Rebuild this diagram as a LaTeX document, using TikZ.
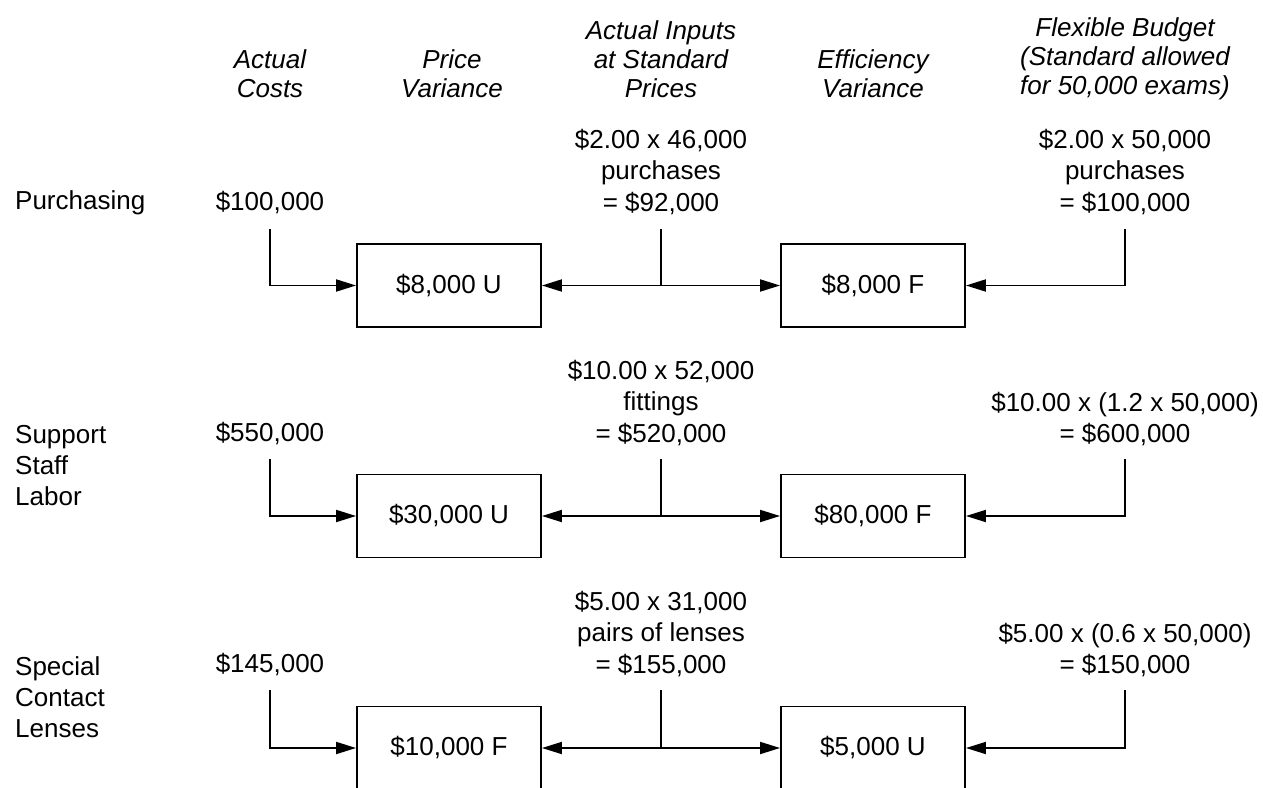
\documentclass[tikz,border=0pt]{standalone}
\usepackage{fontspec}
\setmainfont{Liberation Sans}
\usetikzlibrary{arrows.meta}
\begin{document}
\begin{tikzpicture}[x=1pt,y=-1pt,
  txt/.style={font=\fontsize{26}{31.5}\selectfont, align=center, inner sep=0pt},
  hdr/.style={font=\fontsize{26}{29}\selectfont\itshape, align=center, inner sep=0pt},
  lbl/.style={font=\fontsize{26}{31}\selectfont, align=left, inner sep=0pt, anchor=west},
  vbox/.style={draw, line width=1.9pt, minimum width=184pt, minimum height=83pt, inner sep=0pt, font=\fontsize{26}{31.5}\selectfont},
  conn/.style={line width=1.9pt},
  arr/.style={-{Triangle[length=20pt,width=12pt]}},
  darr/.style={{Triangle[length=20pt,width=12pt]}-{Triangle[length=20pt,width=12pt]}}]
\useasboundingbox (0,0) rectangle (1263,787);

% headers
\node[hdr] (h1) at (270,73.5) {Actual\\Costs};
\node[hdr] (h2) at (452,73.5) {Price\\Variance};
\node[hdr] (h3) at (661,59) {Actual Inputs\\at Standard\\Prices};
\node[hdr] (h4) at (873,73.5) {Efficiency\\Variance};
\node[hdr] (h5) at (1125,59) {Flexible Budget\\(Standard allowed\\for 50,000 exams)};

% row labels
\node[lbl] (l1) at (15,203) {Purchasing};
\node[lbl] (l2) at (15,466) {Support\\Staff\\Labor};
\node[lbl] (l3) at (15,697) {Special\\Contact\\Lenses};

% row 1
\node[txt] (a1) at (270,203) {\$100,000};
\node[txt] (m1) at (661,172) {\$2.00 x 46,000\\purchases\\= \$92,000};
\node[txt] (r1) at (1125,172) {\$2.00 x 50,000\\purchases\\= \$100,000};
\node[vbox] (p1) at (449,285.5) {\$8,000 U};
\node[vbox] (e1) at (873,285.5) {\$8,000 F};
\coordinate (a1t) at (270,229);
\coordinate (m1t) at (661,229);
\coordinate (r1t) at (1125,229);
\draw[conn,arr] (a1t) |- (p1.west);
\draw[conn,darr] (p1.east) -- (e1.west);
\draw[conn] (m1t) -- (m1t |- p1.east);
\draw[conn,arr] (r1t) |- (e1.east);

% row 2
\node[txt] (a2) at (270,434) {\$550,000};
\node[txt] (m2) at (661,403) {\$10.00 x 52,000\\fittings\\= \$520,000};
\node[txt] (r2) at (1125,419) {\$10.00 x (1.2 x 50,000)\\= \$600,000};
\node[vbox] (p2) at (449,516) {\$30,000 U};
\node[vbox] (e2) at (873,516) {\$80,000 F};
\coordinate (a2t) at (270,459);
\coordinate (m2t) at (661,459);
\coordinate (r2t) at (1125,459);
\draw[conn,arr] (a2t) |- (p2.west);
\draw[conn,darr] (p2.east) -- (e2.west);
\draw[conn] (m2t) -- (m2t |- p2.east);
\draw[conn,arr] (r2t) |- (e2.east);

% row 3
\node[txt] (a3) at (270,665) {\$145,000};
\node[txt] (m3) at (661,634) {\$5.00 x 31,000\\pairs of lenses\\= \$155,000};
\node[txt] (r3) at (1125,650) {\$5.00 x (0.6 x 50,000)\\= \$150,000};
\node[vbox] (p3) at (449,748) {\$10,000 F};
\node[vbox] (e3) at (873,748) {\$5,000 U};
\coordinate (a3t) at (270,690);
\coordinate (m3t) at (661,690);
\coordinate (r3t) at (1125,690);
\draw[conn,arr] (a3t) |- (p3.west);
\draw[conn,darr] (p3.east) -- (e3.west);
\draw[conn] (m3t) -- (m3t |- p3.east);
\draw[conn,arr] (r3t) |- (e3.east);
\end{tikzpicture}
\end{document}
